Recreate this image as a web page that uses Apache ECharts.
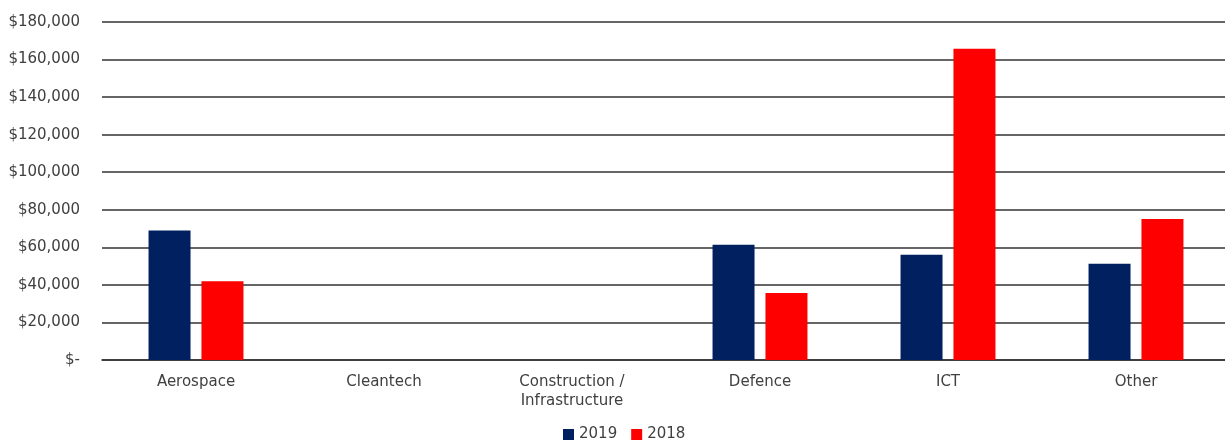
<!DOCTYPE html>
<html>
<head>
<meta charset="utf-8">
<script src="https://cdn.jsdelivr.net/npm/echarts@6/dist/echarts.min.js"></script>
<style>html,body{margin:0;padding:0;background:#fff;overflow:hidden;width:1225px;height:441px;}#c{width:1230px;height:441px;}</style>
</head>
<body>
<div id="c"></div>
<script>
var categories = ['Aerospace', 'Cleantech', 'Construction /\nInfrastructure', 'Defence', 'ICT', 'Other'];
var series2019 = [69000, null, null, 61400, 56100, 51300];
var series2018 = [41900, null, null, 35700, 165800, 75100];
var seriesNames = ['2019', '2018'];

var chart = echarts.init(document.getElementById('c'));
var font = 'DejaVu Sans, sans-serif';
chart.setOption({
  animation: false,
  grid: {left: 102, right: 0, top: 22, bottom: 81},
  legend: {
    data: seriesNames, bottom: -1, left: 563, padding: 0,
    itemWidth: 11, itemHeight: 11, itemGap: 14, icon: 'rect',
    textStyle: {fontFamily: font, fontSize: 15, color: '#404040'}
  },
  xAxis: {
    type: 'category', data: categories,
    axisLine: {lineStyle: {color: '#333', width: 1.5}},
    axisTick: {show: false},
    axisLabel: {fontFamily: font, fontSize: 15, color: '#404040', margin: 13, lineHeight: 19, interval: 0}
  },
  yAxis: {
    type: 'value', min: 0, max: 180000, interval: 20000,
    axisLine: {show: false}, axisTick: {show: false},
    splitLine: {lineStyle: {color: '#333', width: 1.5}},
    axisLabel: {
      fontFamily: font, fontSize: 15, color: '#404040', margin: 22,
      formatter: function (v) { return v === 0 ? '$-' : '$' + v.toLocaleString('en-US'); }
    }
  },
  series: [
    {name: seriesNames[0], type: 'bar', data: series2019, barWidth: 42, barGap: '26%', itemStyle: {color: '#002060'}},
    {name: seriesNames[1], type: 'bar', data: series2018, barWidth: 42, itemStyle: {color: '#FF0000'}}
  ]
});
</script>
</body>
</html>
